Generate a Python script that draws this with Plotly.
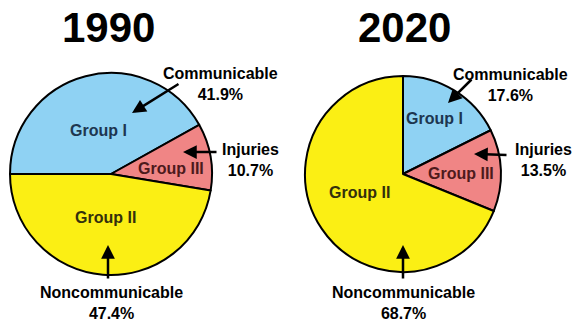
"""Two pie charts: cause-of-death groups, 1990 vs 2020."""

import plotly.graph_objects as go

W, H = 576, 322

GROUPS = ["Group I", "Group III", "Group II"]
CAUSES = ["Communicable", "Injuries", "Noncommunicable"]
SHARE_1990 = [41.9, 10.7, 47.4]
SHARE_2020 = [17.6, 13.5, 68.7]
COLORS = ["#8fd2f3", "#f08585", "#fbef14"]
TEXT_COLORS = ["#1d3650", "#4e1a1c", "#33300c"]
FONT = "Liberation Sans, Arial, sans-serif"


def px(x, y):
    return x / W, 1 - y / H


def domain(cx, cy, r):
    return dict(x=[(cx - r) / W, (cx + r) / W], y=[1 - (cy + r) / H, 1 - (cy - r) / H])


fig = go.Figure()
fig.add_trace(go.Pie(
    labels=GROUPS, values=SHARE_1990, sort=False, direction="clockwise", rotation=270,
    marker=dict(colors=COLORS, line=dict(color="black", width=2)),
    textinfo="none", hoverinfo="label+percent", showlegend=False,
    domain=domain(111, 174, 101),
))
fig.add_trace(go.Pie(
    labels=GROUPS, values=SHARE_2020, sort=False, direction="clockwise", rotation=0,
    marker=dict(colors=COLORS, line=dict(color="black", width=2)),
    textinfo="none", hoverinfo="label+percent", showlegend=False,
    domain=domain(403, 174, 98),
))

ann = []


def text(x, y, s, size=16, color="black"):
    xx, yy = px(x, y)
    ann.append(dict(x=xx, y=yy, xref="paper", yref="paper", text=f"<b>{s}</b>",
                    showarrow=False, xanchor="center", yanchor="middle",
                    font=dict(family=FONT, size=size, color=color)))


def arrow(tail, head):
    xx, yy = px(*head)
    ann.append(dict(x=xx, y=yy, xref="paper", yref="paper", text="",
                    showarrow=True, ax=tail[0] - head[0], ay=tail[1] - head[1],
                    arrowhead=2, arrowsize=1.1, arrowwidth=2.5, arrowcolor="black",
                    standoff=0, startstandoff=0))


# titles
text(108, 28, "1990", size=42)
text(404, 28, "2020", size=42)

# 1990 labels
text(98, 130, GROUPS[0], color=TEXT_COLORS[0])
text(171, 168, GROUPS[1], color=TEXT_COLORS[1])
text(105, 218, GROUPS[2], color=TEXT_COLORS[2])
text(220, 84, f"{CAUSES[0]}<br>{SHARE_1990[0]}%")
text(250, 160, f"{CAUSES[1]}<br>{SHARE_1990[1]}%")
text(111, 303, f"{CAUSES[2]}<br>{SHARE_1990[2]}%")
arrow((180, 83), (132, 113))
arrow((218, 152), (183, 152))
arrow((108, 280), (108, 245))

# 2020 labels
text(434, 118, GROUPS[0], color=TEXT_COLORS[0])
text(461, 173, GROUPS[1], color=TEXT_COLORS[1])
text(359, 192, GROUPS[2], color=TEXT_COLORS[2])
text(510, 85, f"{CAUSES[0]}<br>{SHARE_2020[0]}%")
text(543, 160, f"{CAUSES[1]}<br>{SHARE_2020[1]}%")
text(403, 303, f"{CAUSES[2]}<br>{SHARE_2020[2]}%")
arrow((473, 78), (448, 103))
arrow((508, 155), (474, 154))
arrow((403, 280), (403, 245))

fig.update_layout(
    width=W, height=H,
    margin=dict(l=0, r=0, t=0, b=0),
    paper_bgcolor="white", plot_bgcolor="white",
    annotations=ann,
)

# page body has a default 8px margin; drop it so the figure fills the window
fig.write_html(
    "out.html",
    config={"displayModeBar": False},
    post_script="document.body.style.margin = '0';",
)
